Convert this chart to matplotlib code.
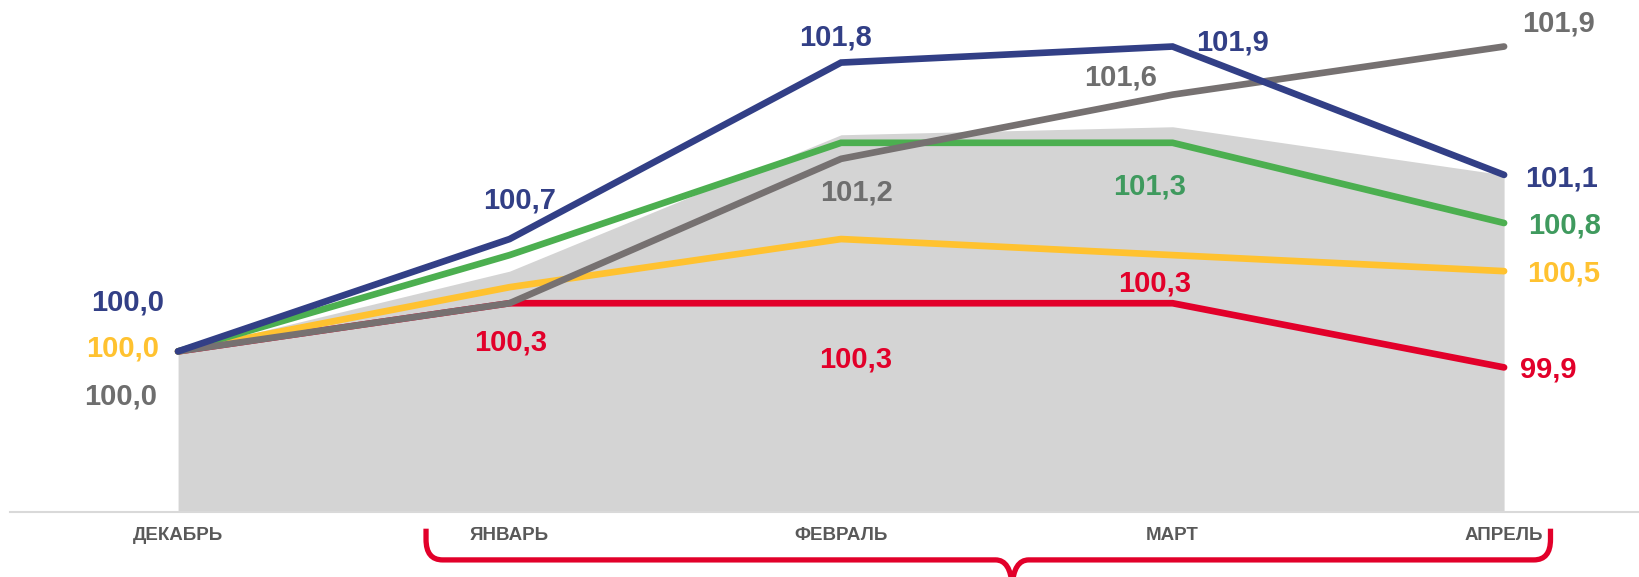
import matplotlib
matplotlib.use("Agg")
import matplotlib.pyplot as plt
from matplotlib.path import Path
from matplotlib.patches import PathPatch
import matplotlib.transforms as mtransforms

plt.rcParams['font.family'] = ['Liberation Sans', 'DejaVu Sans']

months = ["ДЕКАБРЬ", "ЯНВАРЬ", "ФЕВРАЛЬ", "МАРТ", "АПРЕЛЬ"]
area_vals = [100.0, 100.5, 101.35, 101.4, 101.1]
blue_vals = [100.0, 100.7, 101.8, 101.9, 101.1]
green_vals = [100.0, 100.6, 101.3, 101.3, 100.8]
yellow_vals = [100.0, 100.4, 100.7, 100.6, 100.5]
red_vals = [100.0, 100.3, 100.3, 100.3, 99.9]
gray_vals = [100.0, 100.3, 101.2, 101.6, 101.9]

C_BLUE = "#323f86"
C_GREEN = "#4caf50"
C_GREEN_T = "#3f9a5e"
C_YELLOW = "#ffc230"
C_RED = "#e2002a"
C_GRAY = "#767171"
C_GRAY_T = "#6e6e6e"
C_AREA = "#d4d4d4"

fig = plt.figure(figsize=(16.40, 5.77), dpi=100)
ax = fig.add_axes([10/1640, 0.113, 1 - 10/1640, 0.887])
x = list(range(len(months)))

ax.fill_between(x, 99.0, area_vals, color=C_AREA, lw=0, zorder=1)
lw = 4.8
for vals, col, z in [(red_vals, C_RED, 2), (yellow_vals, C_YELLOW, 3), (green_vals, C_GREEN, 4),
                     (gray_vals, C_GRAY, 5), (blue_vals, C_BLUE, 6)]:
    ax.plot(x, vals, color=col, lw=lw, solid_capstyle='round', solid_joinstyle='miter', zorder=z)

ax.set_xlim(-0.507, 4.41)
ax.set_ylim(99.0, 102.19)

def fmt(v):
    return f"{v:.1f}".replace(".", ",")

fs = 21
def lab(i, vals, color, dx, dy):
    ax.annotate(fmt(vals[i]), (x[i], vals[i]), xytext=(dx, dy), textcoords='offset pixels',
                ha='center', va='center', fontsize=fs, fontweight='bold', color=color, zorder=10,
                annotation_clip=False)

lab(0, blue_vals, C_BLUE, -50, 49)
lab(0, yellow_vals, C_YELLOW, -55, 3)
lab(0, gray_vals, C_GRAY_T, -57, -45)
lab(1, blue_vals, C_BLUE, 10, 39)
lab(1, red_vals, C_RED, 1, -39)
lab(2, blue_vals, C_BLUE, -6, 25)
lab(2, gray_vals, C_GRAY_T, 15, -34)
lab(2, red_vals, C_RED, 15, -56)
lab(3, gray_vals, C_GRAY_T, -52, 17)
lab(3, blue_vals, C_BLUE, 60, 4)
lab(3, green_vals, C_GREEN_T, -23, -44)
lab(3, red_vals, C_RED, -18, 20)
lab(4, gray_vals, C_GRAY_T, 54, 23)
lab(4, blue_vals, C_BLUE, 57, -4)
lab(4, green_vals, C_GREEN_T, 60, -2)
lab(4, yellow_vals, C_YELLOW, 60, -2)
lab(4, red_vals, C_RED, 44, -2)

for s in ['top', 'right', 'left']:
    ax.spines[s].set_visible(False)
ax.spines['bottom'].set_color('#d9d9d9')
ax.spines['bottom'].set_linewidth(1.5)
ax.set_yticks([])
ax.set_xticks(x)
ax.set_xticklabels(months, fontsize=13.5, fontweight='bold', color='#595959')
ax.tick_params(axis='x', length=0, pad=11)

# curly brace under Jan..Apr
trans = mtransforms.blended_transform_factory(ax.transData, ax.transAxes)
xl, xr, xc = 0.748, 4.14, 2.516
yt, yh, yb = -0.033, -0.094, -0.145
rx, ry = 0.05, 0.04
drx = 0.05
verts = [
    (xl, yt), (xl, yh + ry),
    (xl, yh), (xl + rx, yh),
    (xc - drx, yh),
    (xc - 0.005, yh), (xc, yb),
    (xc + 0.005, yh), (xc + drx, yh),
    (xr - rx, yh),
    (xr, yh), (xr, yh + ry),
    (xr, yt),
]
codes = [Path.MOVETO, Path.LINETO,
         Path.CURVE3, Path.CURVE3,
         Path.LINETO,
         Path.CURVE3, Path.CURVE3,
         Path.CURVE3, Path.CURVE3,
         Path.LINETO,
         Path.CURVE3, Path.CURVE3,
         Path.LINETO]
patch = PathPatch(Path(verts, codes), facecolor='none', edgecolor=C_RED, lw=3.8, transform=trans,
                  clip_on=False, capstyle='butt', joinstyle='round')
ax.add_patch(patch)

fig.savefig("out.png", dpi=100)
